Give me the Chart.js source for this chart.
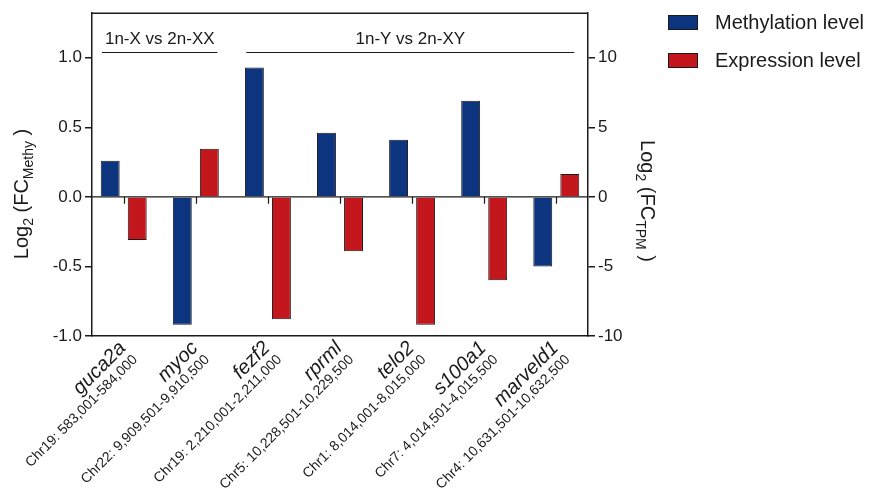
<!DOCTYPE html>
<html>
<head>
<meta charset="utf-8">
<script src="https://cdn.jsdelivr.net/npm/chart.js@4.4.1/dist/chart.umd.min.js"></script>
<style>
  body { margin: 0; background: #fff; }
  #wrap { width: 876px; height: 491px; }
</style>
</head>
<body>
<div id="wrap"><canvas id="chart" width="876" height="491"></canvas></div>
<script>
// gene names and their locations
const genes = ['guca2a', 'myoc', 'fezf2', 'rprml', 'telo2', 's100a1', 'marveld1'];
const locations = [
  'Chr19: 583,001-584,000',
  'Chr22: 9,909,501-9,910,500',
  'Chr19: 2,210,001-2,211,000',
  'Chr5: 10,228,501-10,229,500',
  'Chr1: 8,014,001-8,015,000',
  'Chr7: 4,014,501-4,015,500',
  'Chr4: 10,631,501-10,632,500'
];
// log2 fold change, methylation (left axis) and expression (right axis)
const methylation = [0.26, -0.92, 0.93, 0.46, 0.41, 0.69, -0.50];
const expression = [-3.1, 3.45, -8.8, -3.9, -9.2, -6.0, 1.65];
const leftTicks = [-1, -0.5, 0, 0.5, 1];
const rightTicks = [-10, -5, 0, 5, 10];
const groupLabels = ['1n-X vs 2n-XX', '1n-Y vs 2n-XY'];
const groupSpans = [[-0.3, 1.3], [1.7, 6.25]];
const seriesNames = ['Methylation level', 'Expression level'];

const BLUE = '#0d347e';
const RED = '#c4161d';
const INK = '#1a1a1a';
const FONT = '"Liberation Sans", Arial, sans-serif';

// draw a text made of parts (some subscripted), centred on 0,0 of the current transform
function drawParts(ctx, parts) {
  let total = 0;
  parts.forEach(p => {
    ctx.font = p.size + 'px ' + FONT;
    p.w = ctx.measureText(p.t).width;
    total += p.w;
  });
  let x = -total / 2;
  ctx.textAlign = 'left';
  ctx.textBaseline = 'alphabetic';
  parts.forEach(p => {
    ctx.font = p.size + 'px ' + FONT;
    ctx.fillText(p.t, x, p.dy || 0);
    x += p.w;
  });
}

const extras = {
  id: 'extras',
  afterDraw(chart) {
    const ctx = chart.ctx;
    const area = chart.chartArea;
    const xs = chart.scales.x;
    const yl = chart.scales.y;
    ctx.save();
    ctx.strokeStyle = INK;
    ctx.fillStyle = INK;

    // top frame line
    ctx.lineWidth = 1.5;
    ctx.beginPath();
    ctx.moveTo(area.left, area.top);
    ctx.lineTo(area.right, area.top);
    ctx.stroke();

    // zero line with small ticks under each gene
    const y0 = yl.getPixelForValue(0);
    ctx.lineWidth = 1.2;
    ctx.beginPath();
    ctx.moveTo(area.left, y0);
    ctx.lineTo(area.right, y0);
    genes.forEach((g, i) => {
      const x = Math.round(xs.getPixelForValue(i)) + 0.5;
      ctx.moveTo(x, y0);
      ctx.lineTo(x, y0 + 7);
    });
    ctx.stroke();

    // comparison brackets
    ctx.lineWidth = 1;
    ctx.font = '17px ' + FONT;
    ctx.textAlign = 'center';
    ctx.textBaseline = 'middle';
    const yLine = Math.round(yl.getPixelForValue(1.04)) + 0.5;
    groupLabels.forEach((lab, k) => {
      const a = xs.getPixelForValue(groupSpans[k][0]);
      const b = xs.getPixelForValue(groupSpans[k][1]);
      ctx.beginPath();
      ctx.moveTo(a, yLine);
      ctx.lineTo(b, yLine);
      ctx.stroke();
      ctx.fillText(lab, (a + b) / 2, yLine - 13);
    });

    // rotated category labels: gene name in italics, location below
    genes.forEach((g, i) => {
      const x = xs.getPixelForValue(i);
      ctx.save();
      ctx.translate(x + 3, area.bottom + 13);
      ctx.rotate(-Math.PI / 4);
      ctx.textAlign = 'right';
      ctx.textBaseline = 'alphabetic';
      ctx.font = 'italic 20px ' + FONT;
      ctx.fillText(g, 0, 0);
      ctx.font = '14px ' + FONT;
      ctx.fillText(locations[i], 0, 16);
      ctx.restore();
    });

    // axis titles
    ctx.save();
    ctx.translate(28, 194);
    ctx.rotate(-Math.PI / 2);
    drawParts(ctx, [
      { t: 'Log', size: 20 }, { t: '2', size: 14, dy: 5 },
      { t: ' (FC', size: 20 }, { t: 'Methy', size: 14, dy: 5 }, { t: ' )', size: 20 }
    ]);
    ctx.restore();
    ctx.save();
    ctx.translate(641, 201);
    ctx.rotate(Math.PI / 2);
    drawParts(ctx, [
      { t: 'Log', size: 20 }, { t: '2', size: 14, dy: 5 },
      { t: ' (FC', size: 20 }, { t: 'TPM', size: 14, dy: 5 }, { t: ' )', size: 20 }
    ]);
    ctx.restore();

    // legend
    ctx.font = '20px ' + FONT;
    ctx.textAlign = 'left';
    ctx.textBaseline = 'middle';
    [BLUE, RED].forEach((c, k) => {
      const top = 15 + k * 38;
      ctx.fillStyle = c;
      ctx.fillRect(668, top, 30, 15);
      ctx.lineWidth = 1;
      ctx.strokeStyle = INK;
      ctx.strokeRect(668.5, top + 0.5, 29, 14);
      ctx.fillStyle = INK;
      ctx.fillText(seriesNames[k], 715, top + 8);
    });
    ctx.restore();
  }
};

new Chart(document.getElementById('chart'), {
  type: 'bar',
  data: {
    datasets: [
      {
        label: seriesNames[0],
        data: methylation.map((v, i) => ({ x: i, y: v })),
        backgroundColor: BLUE,
        borderColor: INK,
        borderWidth: 1,
        yAxisID: 'y'
      },
      {
        label: seriesNames[1],
        data: expression.map((v, i) => ({ x: i, y: v })),
        backgroundColor: RED,
        borderColor: INK,
        borderWidth: 1,
        yAxisID: 'y2'
      }
    ]
  },
  options: {
    responsive: false,
    animation: false,
    categoryPercentage: 0.75,
    barPercentage: 0.7,
    layout: { padding: { top: 8, right: 208, left: 0, bottom: 0 } },
    plugins: {
      legend: { display: false },
      tooltip: { enabled: false }
    },
    scales: {
      x: {
        type: 'linear',
        min: -0.44,
        max: 6.44,
        offset: false,
        ticks: { display: false },
        grid: { display: false },
        border: { display: true, color: INK, width: 1.5 },
        afterFit: (s) => { s.height = 155; }
      },
      y: {
        position: 'left',
        min: -1,
        max: 1.32,
        afterBuildTicks: (s) => { s.ticks = leftTicks.map(v => ({ value: v })); },
        ticks: {
          font: { family: FONT, size: 17 },
          color: INK,
          padding: 3,
          callback: (v) => Number(v).toFixed(1)
        },
        grid: { drawOnChartArea: false, tickLength: 7, color: INK, lineWidth: 1.5 },
        border: { display: true, color: INK, width: 1.5 },
        afterFit: (s) => { s.width = 92; }
      },
      y2: {
        position: 'right',
        min: -10,
        max: 13.2,
        afterBuildTicks: (s) => { s.ticks = rightTicks.map(v => ({ value: v })); },
        ticks: {
          font: { family: FONT, size: 17 },
          color: INK,
          padding: 3,
          callback: (v) => String(v)
        },
        grid: { drawOnChartArea: false, tickLength: 7, color: INK, lineWidth: 1.5 },
        border: { display: true, color: INK, width: 1.5 },
        afterFit: (s) => { s.width = 80; }
      }
    }
  },
  plugins: [extras]
});
</script>
</body>
</html>
